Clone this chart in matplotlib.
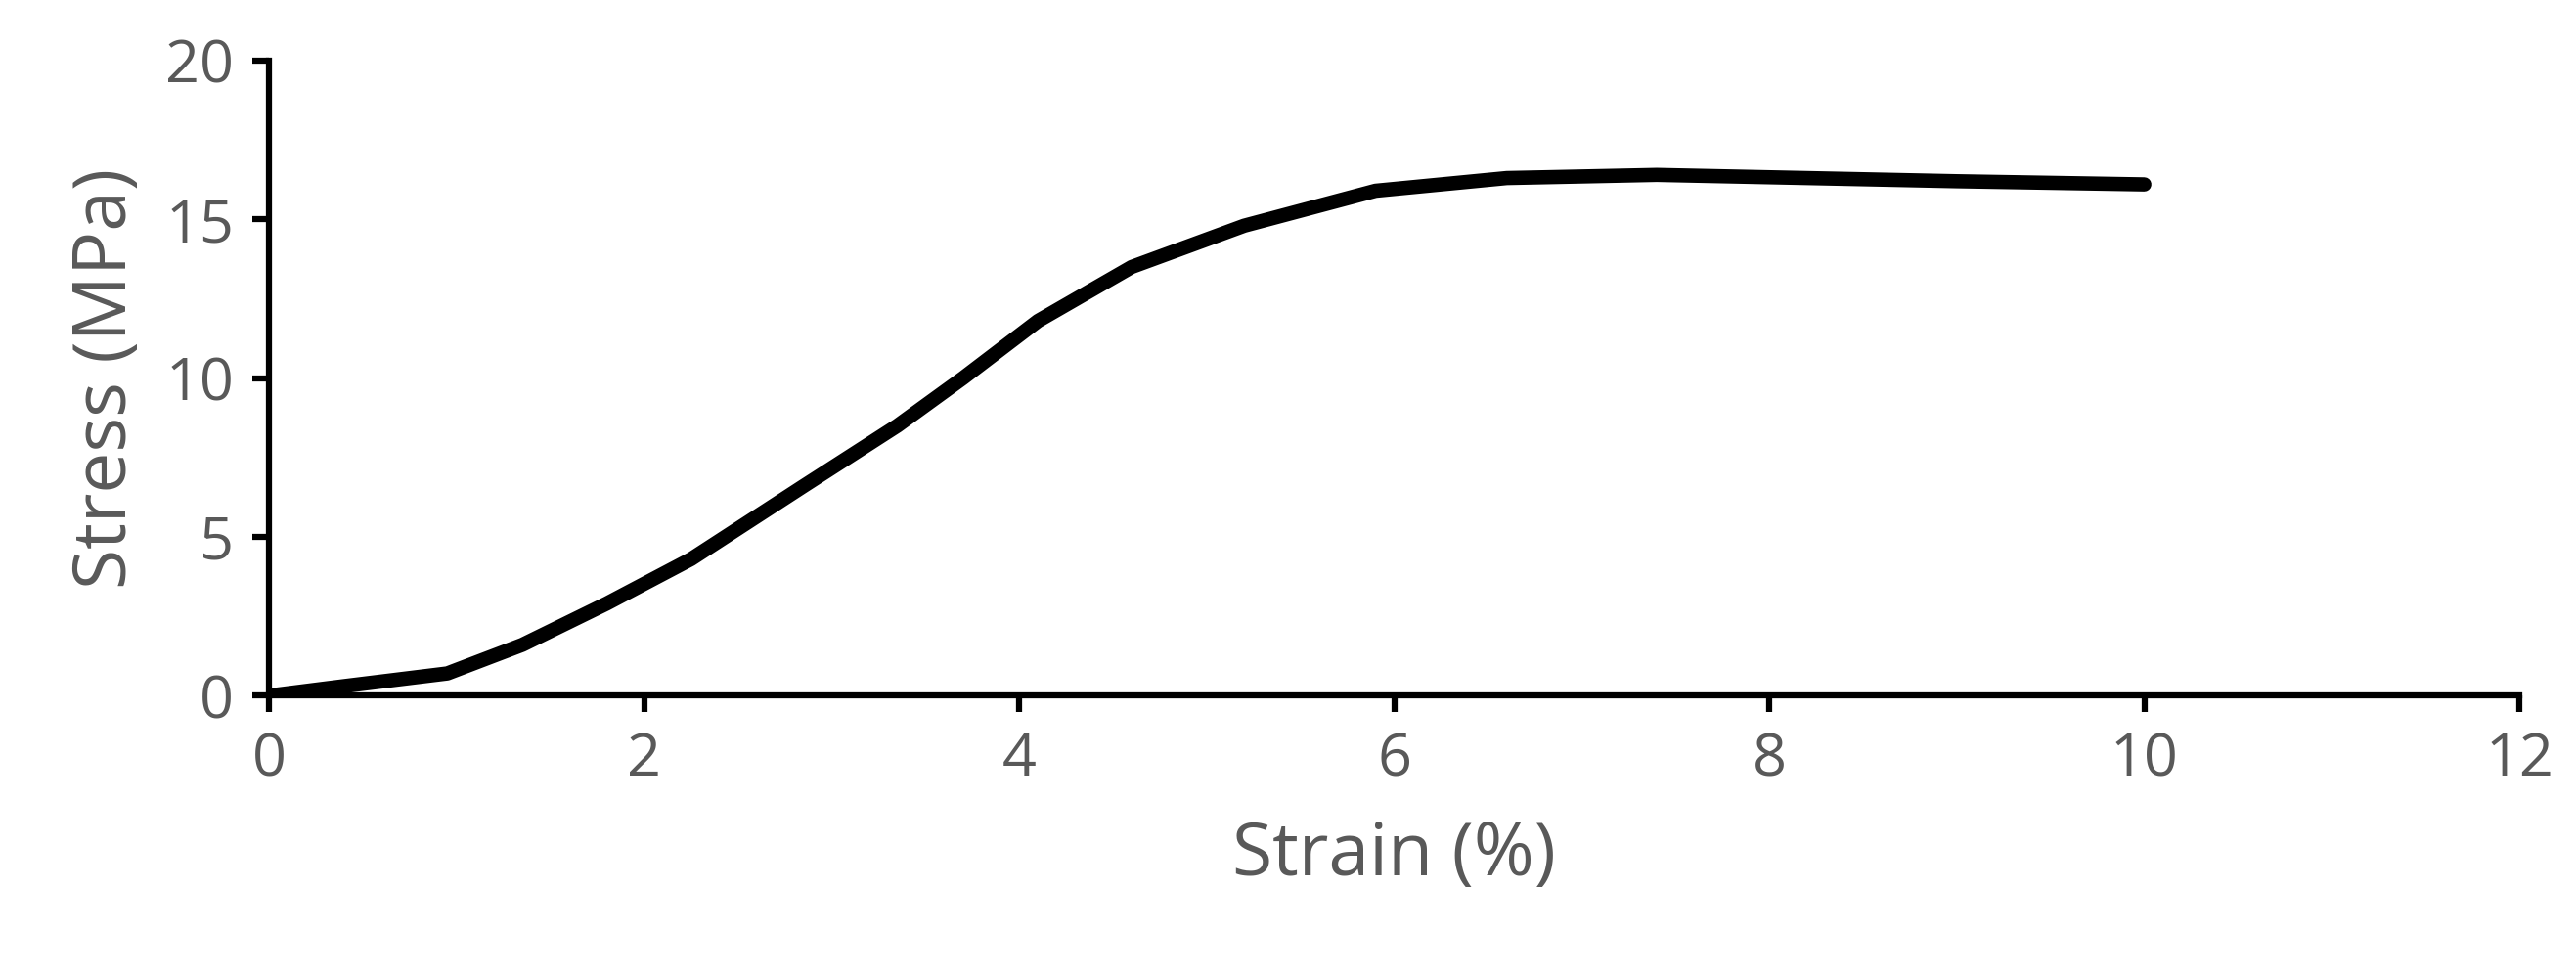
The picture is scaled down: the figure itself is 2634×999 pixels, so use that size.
import matplotlib.pyplot as plt

strain = [0, 0.4, 0.95, 1.35, 1.8, 2.25, 2.85, 3.35, 3.7, 4.1, 4.6, 5.2, 5.9, 6.6, 7.4, 8.2, 9.0, 10.0]
stress = [0, 0.3, 0.7, 1.6, 2.9, 4.3, 6.6, 8.5, 10.0, 11.8, 13.5, 14.8, 15.9, 16.3, 16.4, 16.3, 16.2, 16.1]

plt.rcParams['font.family'] = ['Open Sans', 'DejaVu Sans']
grey = '#595959'

fig = plt.figure(figsize=(26.34, 9.99), dpi=100)
ax = fig.add_axes([0.1045, 0.288, 0.8735, 0.65])
ax.plot(strain, stress, color='black', linewidth=10.5, solid_capstyle='round', solid_joinstyle='round')

ax.set_xlim(0, 12)
ax.set_ylim(0, 20)
ax.set_xticks(range(0, 13, 2))
ax.set_yticks(range(0, 21, 5))
for s in ['top', 'right']:
    ax.spines[s].set_visible(False)
for s in ['left', 'bottom']:
    ax.spines[s].set_linewidth(4.5)
ax.tick_params(width=4.5, length=12, labelsize=44, labelcolor=grey, pad=14)
ax.set_xlabel('Strain (%)', fontsize=54, color=grey, labelpad=22)
ax.set_ylabel('Stress (MPa)', fontsize=54, color=grey, labelpad=16)

fig.savefig('out.png')
